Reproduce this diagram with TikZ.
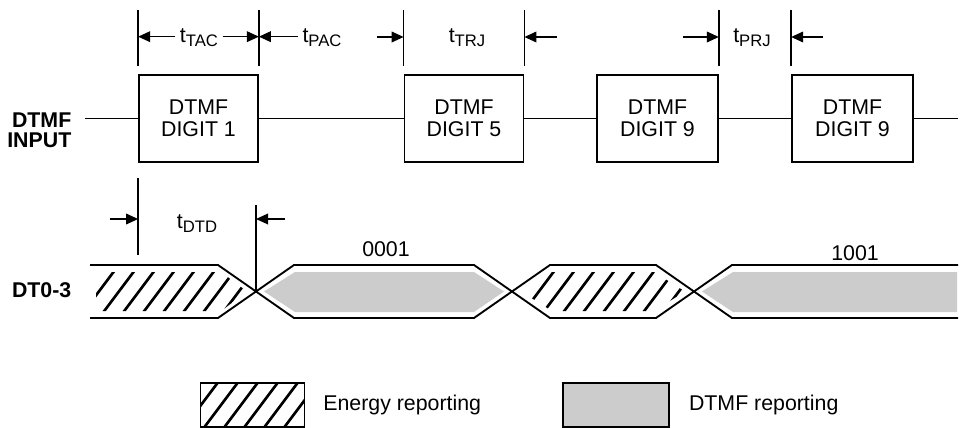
\documentclass[tikz,border=0pt]{standalone}
\usepackage{fontspec}
\setmainfont{Liberation Sans}
\usetikzlibrary{positioning, arrows.meta}
\newcommand{\tpar}[1]{t\raisebox{-3pt}{\fontsize{12.5}{13}\selectfont #1}}

\begin{document}
\begin{tikzpicture}[
  x=0.75pt, y=-0.75pt,
  font=\fontsize{16}{16.5}\selectfont,
  digit/.style={draw, line width=1.3pt, align=center, minimum width=89.25pt, minimum height=65.25pt},
  sig/.style={line width=1.2pt},
  tick/.style={line width=1pt},
  tip/.style={line width=1pt, -{Triangle[length=9pt,width=8pt]}},
  bus/.style={line width=1.4pt, line join=round},
  hatch/.style={line width=2pt},
  dots/.style={fill=black!20},
  lbl/.style={font=\fontsize{16}{15}\selectfont\bfseries, align=right},
]
\useasboundingbox (0,0) rectangle (961,428);

  % DTMF input
  \node[lbl, anchor=east] (inp) at (76,130) {DTMF\\INPUT};
  \node[digit] (b1) at (198.5,118.5) {DTMF\\DIGIT 1};
  \node[digit] (b2) at (464,118.5) {DTMF\\DIGIT 5};
  \node[digit, minimum width=90.75pt] (b3) at (657.5,118.5) {DTMF\\DIGIT 9};
  \node[digit, minimum width=90.75pt] (b4) at (852.5,118.5) {DTMF\\DIGIT 9};
\coordinate (s0) at (85,118.5);
\coordinate (s1) at (958,118.5);
\draw[sig] (s0) -- (b1.west) (b1.east) -- (b2.west) (b2.east) -- (b3.west) (b3.east) -- (b4.west) (b4.east) -- (s1);

  % timing marks above the tones
\coordinate (ta) at (0,10);
\coordinate (tb) at (0,66);
\foreach \a in {b1.north west, b1.north east, b2.north west, b2.north east, b3.north east, b4.north west}
  \draw[tick] (\a |- ta) -- (\a |- tb);
  \node (tac) at (199,38) {\tpar{TAC}};
  \node (pac) at (322,38) {\tpar{PAC}};
  \node (trj) at (467,38) {\tpar{TRJ}};
  \node (prj) at (752,38) {\tpar{PRJ}};
\coordinate (pacr) at (377,37);
\coordinate (trjr) at (557,37);
\coordinate (prjl) at (683,37);
\coordinate (prjr) at (823,37);
\draw[tip] ([yshift=1pt]tac.west) -- ([yshift=1pt]tac.west -| b1.west);
\draw[tip] ([yshift=1pt]tac.east) -- ([yshift=1pt]tac.east -| b1.east);
\draw[tip] ([yshift=1pt]pac.west) -- ([yshift=1pt]pac.west -| b1.east);
\draw[tip] (pacr) -- (pacr -| b2.west);
\draw[tip] (trjr) -- (trjr -| b2.east);
\draw[tip] (prjl) -- (prjl -| b3.east);
\draw[tip] (prjr) -- (prjr -| b4.west);

  % DT0-3 bus
  \node[lbl, anchor=east] (dt) at (76,290) {DT0-3};
\coordinate (x1) at (256,291.5);
\coordinate (x2) at (512,291.5);
\coordinate (x3) at (694,291.5);
\begin{scope}
  \clip (96,272) -- (221,272) -- (247,291.5) -- (221,311) -- (96,311) -- cycle;
  \foreach \x in {50,70,...,250} \draw[hatch] (\x,330) -- ++(45,-60);
\end{scope}
\begin{scope}
  \clip (521,291.5) -- (552,272) -- (654,272) -- (685,291.5) -- (654,311) -- (552,311) -- cycle;
  \foreach \x in {470,490,...,690} \draw[hatch] (\x,330) -- ++(45,-60);
\end{scope}
\fill[dots] (264,291.5) -- (295,272) -- (474,272) -- (504,291.5) -- (474,312) -- (295,312) -- cycle;
\fill[dots] (702,291.5) -- (733,272) -- (957,272) -- (957,312) -- (733,312) -- cycle;
\draw[bus] (90,265) -- (218,265) -- (x1) -- (218,318) -- (90,318);
\draw[bus] (x1) -- (294,265) -- (474,265) -- (x2) -- (474,318) -- (294,318) -- cycle;
\draw[bus] (x2) -- (550,265) -- (656,265) -- (x3) -- (656,318) -- (550,318) -- cycle;
\draw[bus] (958,265) -- (732,265) -- (x3) -- (732,318) -- (958,318);
  \node (c1) at (386,249) {0001};
  \node (c2) at (855,253) {1001};

  % detect delay
\coordinate (d1) at (0,178);
\coordinate (d2) at (0,255);
\coordinate (d3) at (0,205);
\draw[tick] (b1.west |- d1) -- (b1.west |- d2);
\draw[tick] (x1 |- d3) -- (x1);
  \node (dtd) at (197,224) {\tpar{DTD}};
\coordinate (dtdl) at (110,219);
\coordinate (dtdr) at (285,219);
\draw[tip] (dtdl) -- (dtdl -| b1.west);
\draw[tip] (dtdr) -- (dtdr -| x1);

  % legend
  \node[draw, line width=1.2pt, minimum width=78pt, minimum height=33pt,
    path picture={\foreach \x in {-66,-51,...,45}
      \draw[hatch] ([xshift=\x pt]path picture bounding box.south) -- ++(45,-60);}] (leg1) at (252.5,405) {};
  \node[draw, line width=1pt, dots, minimum width=79.5pt, minimum height=33pt] (leg2) at (616,405) {};
  \node[right=10pt of leg1] (ene) {Energy reporting};
  \node[right=11pt of leg2] (dtr) {DTMF reporting};
\end{tikzpicture}
\end{document}
